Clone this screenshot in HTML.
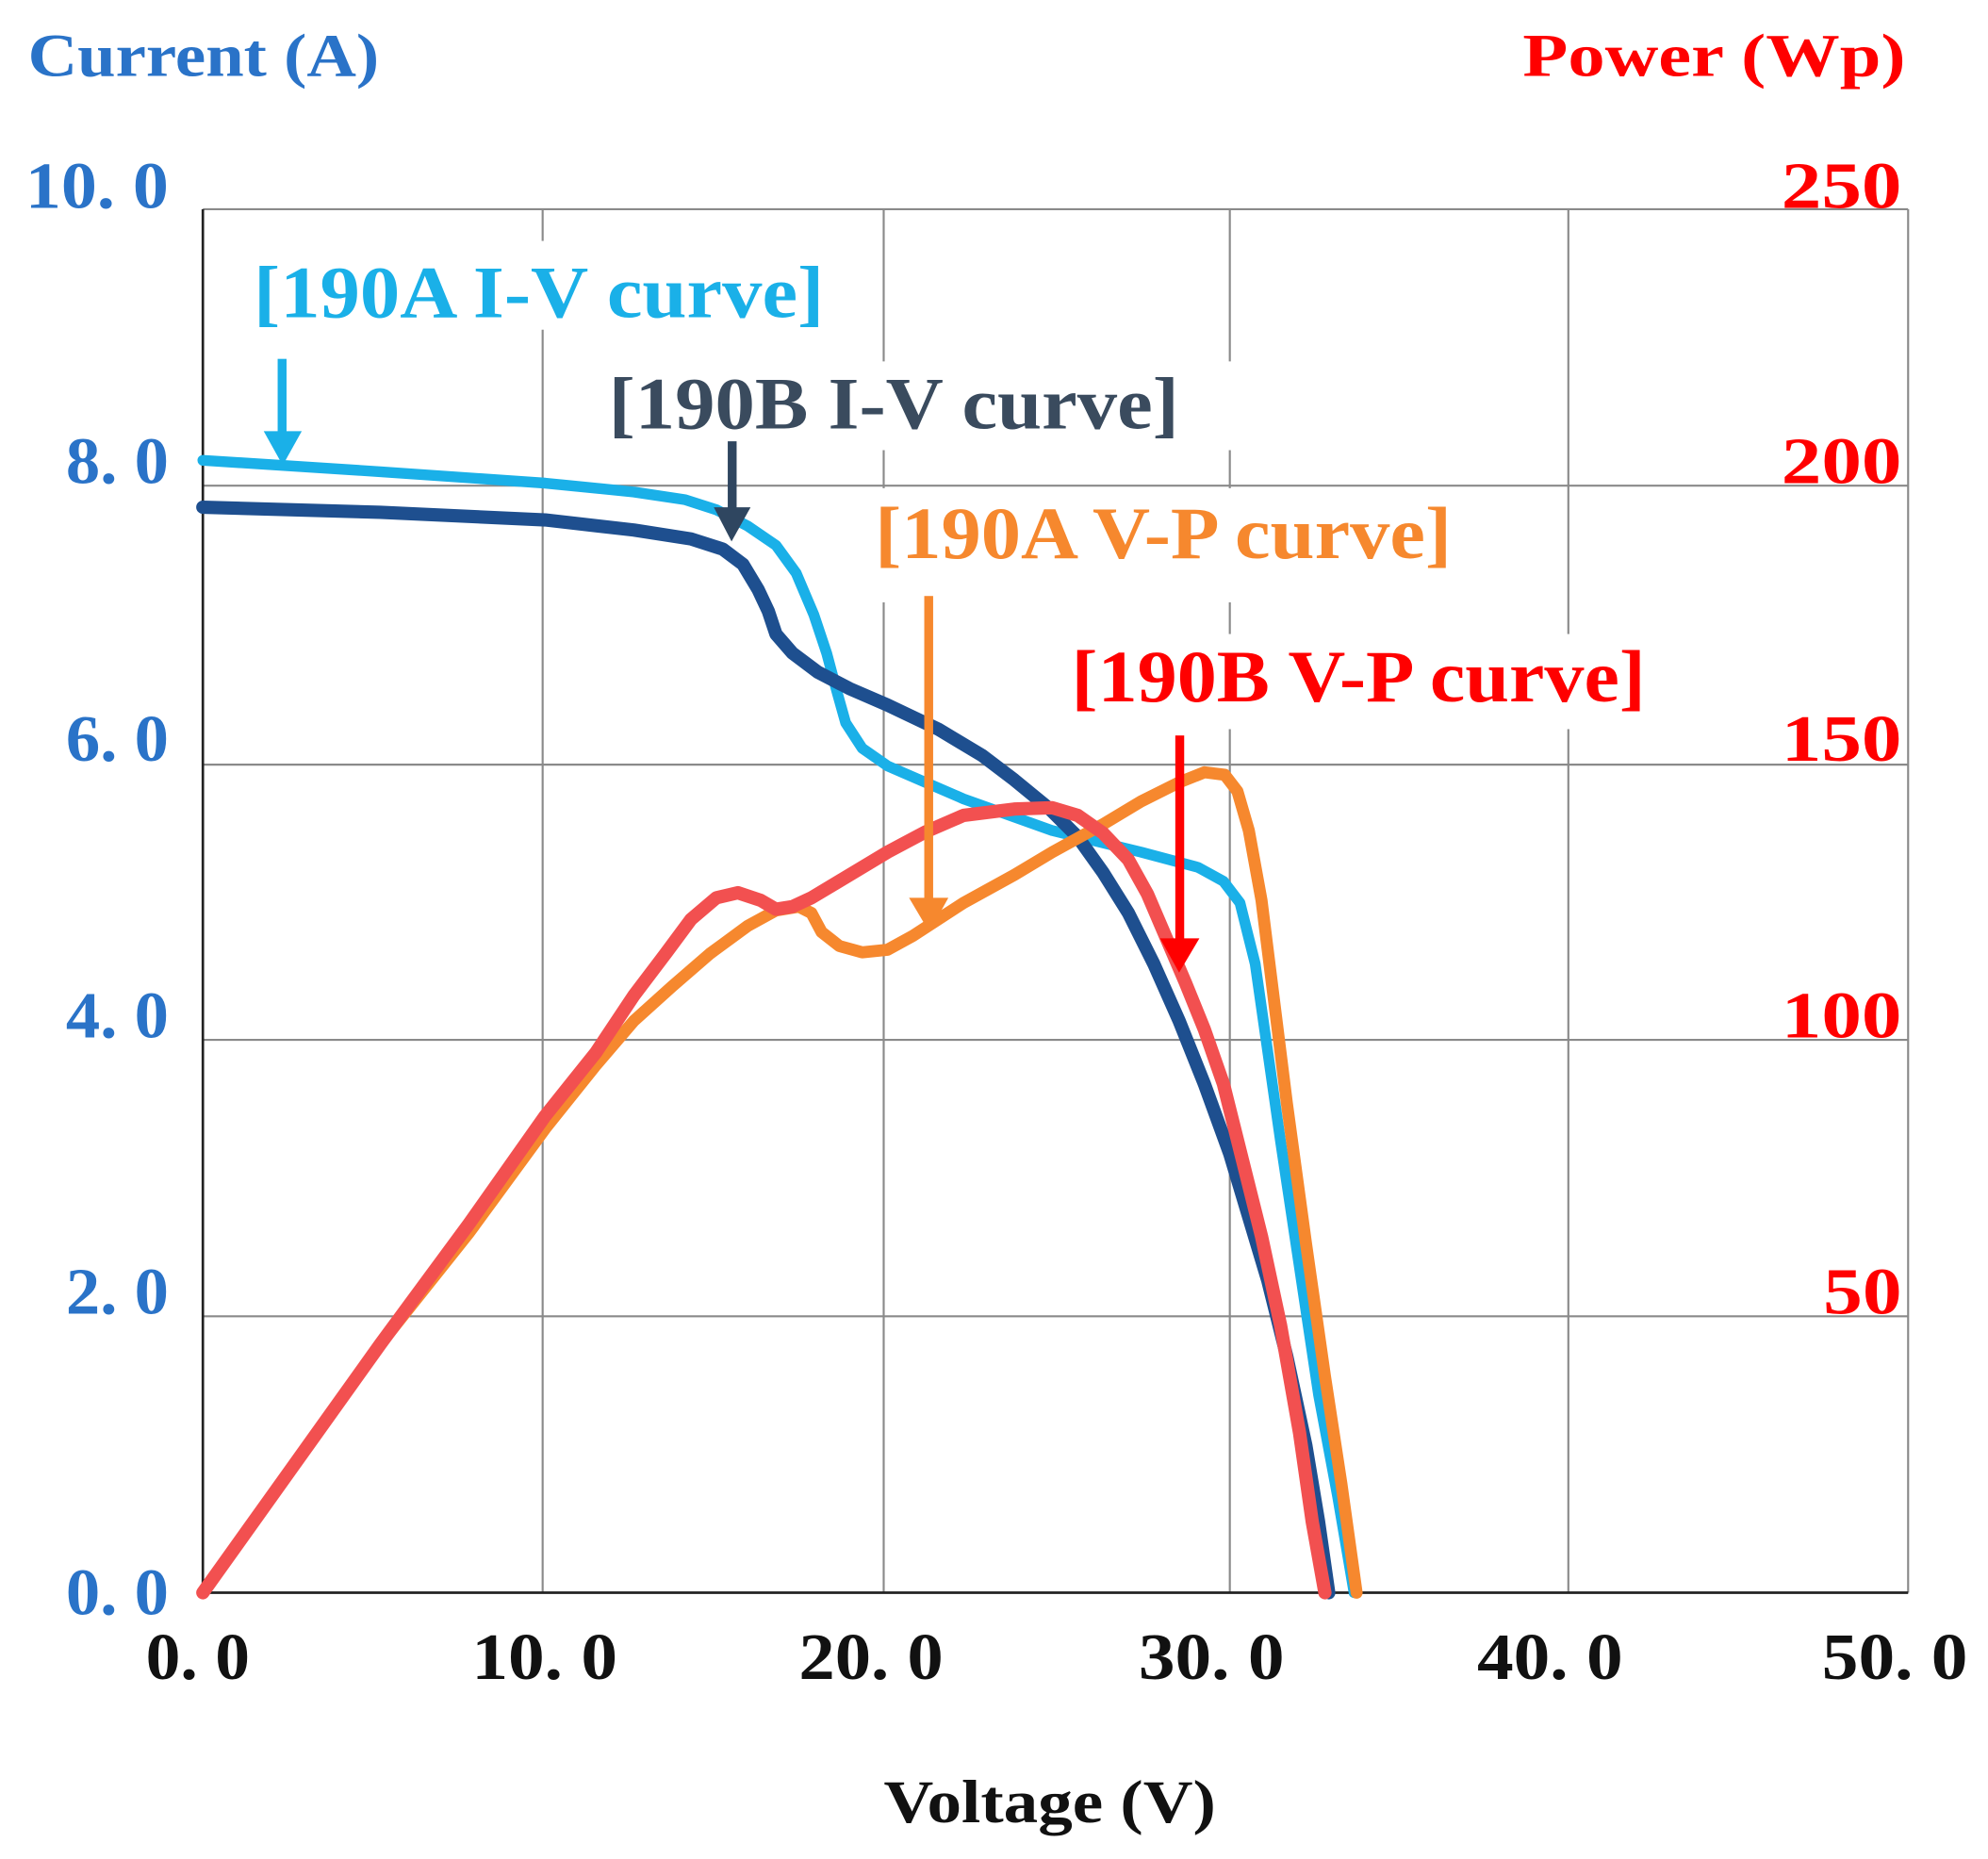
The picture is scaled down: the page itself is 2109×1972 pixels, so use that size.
<!DOCTYPE html>
<html><head><meta charset="utf-8"><style>
html,body{margin:0;padding:0;background:#fff;}
svg{display:block;}
text{font-family:"Liberation Serif",serif;font-weight:bold;}
</style></head><body>
<svg width="2109" height="1972" viewBox="0 0 1568 1466" preserveAspectRatio="none">
<rect width="1568" height="1466" fill="#fff"/>
<g stroke="#8a8a8a" stroke-width="1.6" fill="none">
<line x1="428" y1="165" x2="428" y2="1256"/>
<line x1="697" y1="165" x2="697" y2="1256"/>
<line x1="970" y1="165" x2="970" y2="1256"/>
<line x1="1237" y1="165" x2="1237" y2="1256"/>
<line x1="1505" y1="165" x2="1505" y2="1256"/>
<line x1="160" y1="165" x2="1505" y2="165"/>
<line x1="160" y1="383" x2="1505" y2="383"/>
<line x1="160" y1="603" x2="1505" y2="603"/>
<line x1="160" y1="820" x2="1505" y2="820"/>
<line x1="160" y1="1038" x2="1505" y2="1038"/>
</g>
<line x1="160" y1="165" x2="160" y2="1256" stroke="#222" stroke-width="2"/>
<line x1="160" y1="1256" x2="1505" y2="1256" stroke="#222" stroke-width="2"/>
<rect x="195" y="190" width="465" height="70" fill="#fff"/>
<rect x="475" y="285" width="180" height="70" fill="#fff"/>
<rect x="655" y="285" width="530" height="70" fill="#fff"/>
<rect x="685" y="385" width="465" height="90" fill="#fff"/>
<rect x="840" y="500" width="465" height="75" fill="#fff"/>
<g fill="none" stroke-linejoin="round" stroke-linecap="round">
<polyline stroke="#1ab0e8" stroke-width="8.5" points="160,363 300,372 430,381 500,388 540,394 565,402 590,415 612,430 628,452 642,485 652,515 660,545 667,570 680,590 700,604 730,617 760,630 830,655 900,672 945,684 965,695 978,712 990,760 1000,830 1010,900 1025,1000 1040,1100 1055,1180 1068,1256"/>
<polyline stroke="#1e4f8f" stroke-width="10.5" points="160,400 300,404 430,410 500,418 545,425 570,433 586,445 598,465 606,482 612,500 625,515 645,530 670,543 700,556 740,575 775,596 800,615 828,638 850,660 870,688 890,720 910,760 930,805 950,855 970,910 985,960 1000,1010 1015,1070 1030,1140 1040,1200 1048,1256"/>
<polyline stroke="#f6882e" stroke-width="9.5" points="160,1256 230,1158 300,1060 370,972 430,890 470,840 500,805 530,778 560,752 590,730 612,718 630,715 640,720 648,735 662,746 680,751 700,749 720,738 760,712 800,690 830,672 870,650 900,632 930,617 950,609 966,611 976,624 985,655 995,710 1005,790 1015,870 1030,980 1045,1085 1058,1170 1070,1256"/>
<polyline stroke="#f25050" stroke-width="10.5" points="160,1256 230,1158 300,1060 370,965 430,880 470,830 500,785 525,752 545,725 565,708 582,704 600,710 612,717 625,715 640,708 670,690 700,672 730,656 760,643 800,638 830,637 850,643 870,657 890,678 905,705 920,740 935,775 950,812 965,855 980,915 995,975 1010,1045 1025,1130 1035,1200 1045,1256"/>
</g>
<g>
<rect x="219" y="283" width="7" height="62" fill="#1ab0e8"/><polygon points="208,340 238,340 223,367" fill="#1ab0e8"/>
<rect x="574" y="348" width="7" height="56" fill="#2f4660"/><polygon points="563,400 592,400 577,427" fill="#2f4660"/>
<rect x="729" y="470" width="7" height="240" fill="#f6882e"/><polygon points="717,708 748,708 733,735" fill="#f6882e"/>
<rect x="927" y="580" width="7" height="162" fill="#ff0000"/><polygon points="915,740 946,740 930,767" fill="#ff0000"/>
</g>
<text x="200" y="250" font-size="58" fill="#1ab0e8" textLength="450" lengthAdjust="spacingAndGlyphs">[190A I-V curve]</text>
<text x="480" y="338" font-size="58" fill="#3a4b5e" textLength="450" lengthAdjust="spacingAndGlyphs">[190B I-V curve]</text>
<text x="690" y="440" font-size="58" fill="#f6882e" textLength="455" lengthAdjust="spacingAndGlyphs">[190A V-P curve]</text>
<text x="845" y="553" font-size="58" fill="#ff0000" textLength="453" lengthAdjust="spacingAndGlyphs">[190B V-P curve]</text>
<text x="22" y="60" font-size="48" fill="#2a73c8" textLength="277" lengthAdjust="spacingAndGlyphs">Current (A)</text>
<text x="1503" y="60" font-size="48" fill="#ff0000" text-anchor="end" textLength="302" lengthAdjust="spacingAndGlyphs">Power (Wp)</text>
<text x="828" y="1437" font-size="48" fill="#111" text-anchor="middle" textLength="262" lengthAdjust="spacingAndGlyphs">Voltage (V)</text>
<g font-size="52" fill="#2a73c8">
<text x="20" y="164" textLength="113" lengthAdjust="spacingAndGlyphs">10. 0</text>
<text x="52" y="381" textLength="81" lengthAdjust="spacingAndGlyphs">8. 0</text>
<text x="52" y="600" textLength="81" lengthAdjust="spacingAndGlyphs">6. 0</text>
<text x="52" y="818" textLength="81" lengthAdjust="spacingAndGlyphs">4. 0</text>
<text x="52" y="1036" textLength="81" lengthAdjust="spacingAndGlyphs">2. 0</text>
<text x="52" y="1273" textLength="81" lengthAdjust="spacingAndGlyphs">0. 0</text>
</g>
<g font-size="52" fill="#ff0000">
<text x="1405" y="164" textLength="95" lengthAdjust="spacingAndGlyphs">250</text>
<text x="1405" y="381" textLength="95" lengthAdjust="spacingAndGlyphs">200</text>
<text x="1405" y="600" textLength="95" lengthAdjust="spacingAndGlyphs">150</text>
<text x="1405" y="818" textLength="95" lengthAdjust="spacingAndGlyphs">100</text>
<text x="1438" y="1036" textLength="62" lengthAdjust="spacingAndGlyphs">50</text>
</g>
<g font-size="52" fill="#111">
<text x="115" y="1324" textLength="82" lengthAdjust="spacingAndGlyphs">0. 0</text>
<text x="372" y="1324" textLength="115" lengthAdjust="spacingAndGlyphs">10. 0</text>
<text x="630" y="1324" textLength="114" lengthAdjust="spacingAndGlyphs">20. 0</text>
<text x="898" y="1324" textLength="115" lengthAdjust="spacingAndGlyphs">30. 0</text>
<text x="1165" y="1324" textLength="115" lengthAdjust="spacingAndGlyphs">40. 0</text>
<text x="1437" y="1324" textLength="115" lengthAdjust="spacingAndGlyphs">50. 0</text>
</g>
</svg>
</body></html>
